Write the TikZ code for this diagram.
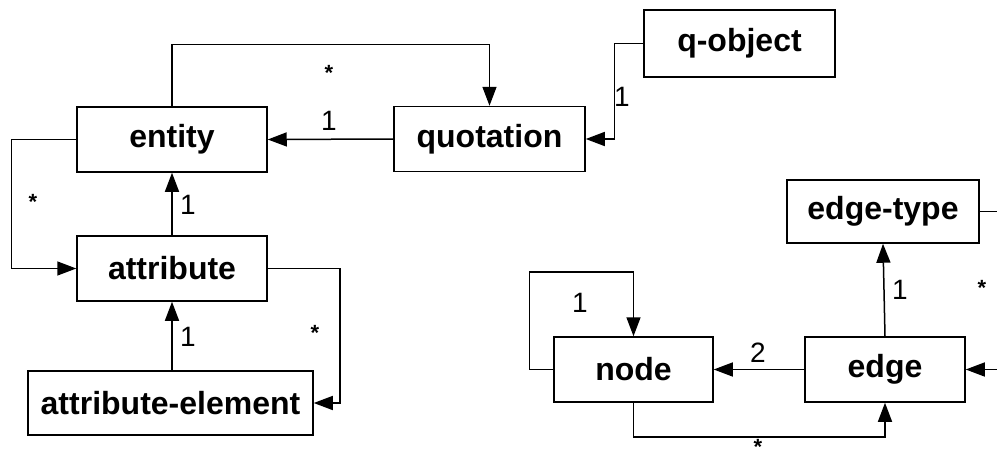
\documentclass[tikz,border=0pt]{standalone}
\usepackage{fontspec}
\setmainfont{Liberation Sans}
\usetikzlibrary{arrows.meta,calc}
\begin{document}
\begin{tikzpicture}[x=1pt,y=-1pt,
  box/.style={draw, line width=1.5pt, rectangle, inner sep=0pt, minimum height=65pt,
    font=\fontsize{32}{36}\selectfont\bfseries},
  conn/.style={line width=1.5pt},
  arr/.style={conn, -{Triangle[length=19pt,width=14pt]}},
  num/.style={inner sep=0pt, font=\fontsize{28}{30}\selectfont},
  star/.style={inner sep=0pt, font=\fontsize{22}{24}\selectfont\bfseries}]
\useasboundingbox (0,0) rectangle (997,450);
% classes
\node[box, minimum width=190pt] (entity) at (172,139.5) {entity};
\node[box, minimum width=191pt] (quotation) at (489.5,139) {quotation};
\node[box, minimum width=191pt, minimum height=67pt] (qobject) at (739.5,43.5) {q-object};
\node[box, minimum width=190pt] (attribute) at (172,268.5) {attribute};
\node[box, minimum width=285pt, minimum height=64pt] (attrel) at (170.5,403) {attribute-element};
\node[box, minimum width=192pt, minimum height=63pt] (edgetype) at (883,211.5) {edge-type};
\node[box, minimum width=159pt] (nnode) at (633.5,369.5) {node};
\node[box, minimum width=160pt] (nedge) at (885,369.5) {edge};
\coordinate (r1) at (997,211.5);
\coordinate (r2) at (997,369.5);
% connectors
\draw[arr] (entity.north) -- ++(0,-62) -| (quotation.north);
\draw[arr] (quotation.west) -- (entity.west -| entity.east);
\draw[arr] (qobject.west) -- ++(-29,0) |- (quotation.east);
\draw[arr] (entity.west) -- ++(-65,0) |- (attribute.west);
\draw[arr] (attribute.north) -- (entity.south);
\draw[arr] (attribute.south |- attrel.north) -- (attribute.south);
\draw[arr] (attribute.east) -- ++(72,0) |- (attrel.east);
\draw[arr] (nedge.west) -- (nnode.east);
\draw[arr] (nedge.north) -- (edgetype.south);
\draw[arr] (nnode.west) -- ++(-24,0) -- ++(0,-97.5) -| (nnode.north);
\draw[arr] (nnode.south) -- ++(0,34) -| (nedge.south);
\draw[conn] (edgetype.east) -- (r1);
\draw[arr] (r2) -- (nedge.east);
% labels
\node[star] (s1) at (329,72.5) {*};
\node[num] (n1) at (329,121) {1};
\node[num] (n2) at (622,97) {1};
\node[star] (s2) at (33,201.5) {*};
\node[num] (n3) at (188,205) {1};
\node[num] (n4) at (188,337) {1};
\node[star] (s3) at (315,332.5) {*};
\node[num] (n5) at (758,353) {2};
\node[num] (n6) at (900,290) {1};
\node[num] (n7) at (580,303) {1};
\node[star] (s4) at (758,447) {*};
\node[star] (s5) at (982,287.5) {*};
\end{tikzpicture}
\end{document}
